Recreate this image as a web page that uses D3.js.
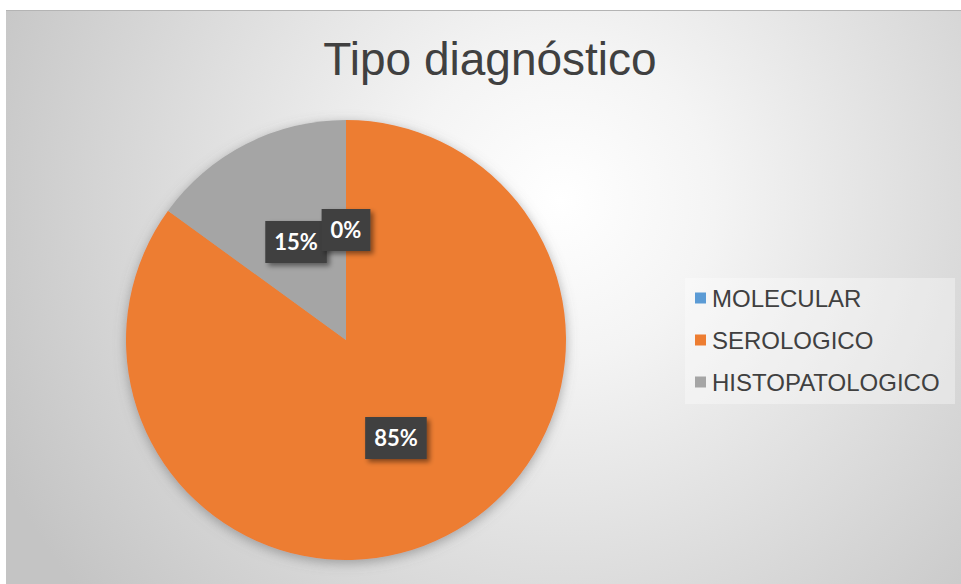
<!DOCTYPE html>
<html>
<head>
<meta charset="utf-8">
<script src="https://cdn.jsdelivr.net/npm/d3@7/dist/d3.min.js"></script>
<style>
html,body{margin:0;padding:0;background:#fff;}
svg{display:block;}
</style>
</head>
<body>
<svg id="chart" width="961" height="584"></svg>
<script>
const categories = ["MOLECULAR", "SEROLOGICO", "HISTOPATOLOGICO"];
const values = [0, 85, 15];
const colors = ["#5b9bd5", "#ed7d31", "#a5a5a5"];
const title = "Tipo diagnóstico";

const svg = d3.select("#chart");
const defs = svg.append("defs");

const bg = defs.append("radialGradient").attr("id", "bg")
  .attr("gradientUnits", "userSpaceOnUse")
  .attr("cx", 560).attr("cy", 200).attr("r", 620);
bg.append("stop").attr("offset", "0%").attr("stop-color", "#ffffff");
bg.append("stop").attr("offset", "25%").attr("stop-color", "#f4f4f4");
bg.append("stop").attr("offset", "100%").attr("stop-color", "#c4c4c4");

const pieShadow = defs.append("filter").attr("id", "pieShadow")
  .attr("x", "-20%").attr("y", "-20%").attr("width", "140%").attr("height", "140%");
pieShadow.append("feDropShadow").attr("dx", 0).attr("dy", 3)
  .attr("stdDeviation", 6).attr("flood-color", "#6a6a6a").attr("flood-opacity", 0.55);

const lblShadow = defs.append("filter").attr("id", "lblShadow")
  .attr("x", "-30%").attr("y", "-30%").attr("width", "160%").attr("height", "160%");
lblShadow.append("feDropShadow").attr("dx", 3).attr("dy", 3)
  .attr("stdDeviation", 2.5).attr("flood-color", "#000").attr("flood-opacity", 0.45);

// chart area background
svg.append("rect").attr("x", 6).attr("y", 10).attr("width", 955).attr("height", 574)
  .attr("fill", "url(#bg)");
svg.append("line").attr("x1", 6).attr("x2", 961).attr("y1", 10.5).attr("y2", 10.5)
  .attr("stroke", "#b4b4b4").attr("stroke-width", 1);

// title
svg.append("text").attr("x", 490).attr("y", 75)
  .attr("text-anchor", "middle")
  .attr("font-family", "'Liberation Sans', Arial, sans-serif")
  .attr("font-size", 46).attr("fill", "#404040")
  .text(title);

// pie
const cx = 346, cy = 340, R = 220;
const data = categories.map((c, i) => ({ cat: c, value: values[i], color: colors[i] }));
const pie = d3.pie().sort(null).value(d => d.value).startAngle(0).endAngle(2 * Math.PI);
const arcs = pie(data);
const arc = d3.arc().innerRadius(0).outerRadius(R);
const total = d3.sum(values);

const g = svg.append("g").attr("transform", `translate(${cx},${cy})`);
g.append("g").attr("filter", "url(#pieShadow)")
  .selectAll("path").data(arcs).join("path")
  .attr("d", arc).attr("fill", d => d.data.color);

// labels
const labelArc = d3.arc().innerRadius(0).outerRadius(R);
const lg = g.append("g");
const labels = lg.selectAll("g.lbl").data(arcs.slice().reverse()).join("g")
  .attr("class", "lbl")
  .attr("transform", d => {
    const [x, y] = labelArc.centroid(d);
    return `translate(${x},${y})`;
  });
labels.each(function(d) {
  const sel = d3.select(this);
  const txt = Math.round(d.data.value / total * 100) + "%";
  const t = sel.append("text")
    .attr("text-anchor", "middle").attr("dy", "0.36em")
    .attr("font-family", "Lato, 'Open Sans', sans-serif")
    .attr("font-weight", "bold").attr("font-size", 22)
    .attr("fill", "#ffffff").text(txt);
  const bb = t.node().getBBox();
  const w = bb.width + 18, h = 42;
  sel.insert("rect", "text")
    .attr("x", -w / 2).attr("y", -h / 2).attr("width", w).attr("height", h)
    .attr("fill", "#404040").attr("filter", "url(#lblShadow)");
});

// legend
const legend = svg.append("g");
legend.append("rect").attr("x", 685).attr("y", 278).attr("width", 270).attr("height", 126)
  .attr("fill", "#ffffff").attr("fill-opacity", 0.35);
const rowY = d3.scalePoint().domain(categories).range([298, 382]);
const items = legend.selectAll("g.item").data(data).join("g")
  .attr("class", "item")
  .attr("transform", d => `translate(695,${rowY(d.cat)})`);
items.append("rect").attr("x", 0).attr("y", -5.5).attr("width", 11).attr("height", 11)
  .attr("fill", d => d.color);
items.append("text").attr("x", 17).attr("dy", "0.36em")
  .attr("font-family", "'Liberation Sans', Arial, sans-serif")
  .attr("font-size", 24).attr("fill", "#404040")
  .text(d => d.cat);
</script>
</body>
</html>
